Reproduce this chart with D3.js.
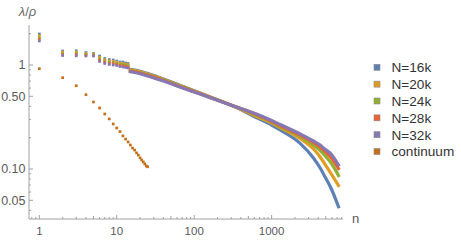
<!DOCTYPE html>
<html><head><meta charset="utf-8">
<script src="https://cdn.jsdelivr.net/npm/d3@7"></script>
<style>html,body{margin:0;padding:0;background:#fff;}svg{display:block;font-family:"Liberation Sans",Arial,sans-serif;}</style>
</head><body><svg id="c" width="461" height="241"></svg>
<script>
const seriesNames = ["N=16k","N=20k","N=24k","N=28k","N=32k"];
const colors = ["#5E81B5","#E19C24","#8FB032","#EB6235","#8778B3"];
const continuumColor = "#C56E1A";

const nDiscrete = [1,2,3,4,5,6,7,8,9,10,11,12,13,14];
const discrete16k = [1.987,1.363,1.369,1.319,1.290,1.220,1.155,1.129,1.117,1.093,1.069,1.069,1.045,1.034];
const discrete20k = [1.911,1.331,1.332,1.293,1.273,1.183,1.123,1.099,1.086,1.066,1.043,1.039,1.020,1.009];
const discrete24k = [1.837,1.297,1.296,1.269,1.255,1.148,1.093,1.069,1.057,1.039,1.017,1.011,0.994,0.983];
const discrete28k = [1.769,1.264,1.260,1.245,1.237,1.115,1.063,1.039,1.028,1.013,0.991,0.983,0.969,0.959];
const discrete32k = [1.702,1.234,1.226,1.220,1.220,1.081,1.034,1.011,1.000,0.989,0.967,0.957,0.946,0.936];

const nBand = [15,20,27,40,72,119,196,355,612,1000,1288,2334,3470,4235,4670,5995,7300];
const band16k = [0.9102,0.8708,0.8148,0.7351,0.6227,0.5392,0.4659,0.3902,0.3162,0.2649,0.2371,0.1766,0.1276,0.1022,0.0895,0.0628,0.0434];
const band20k = [0.8977,0.8588,0.8036,0.7262,0.6164,0.5356,0.4643,0.3911,0.3248,0.2769,0.2506,0.1965,0.1557,0.1304,0.1168,0.0876,0.0694];
const band24k = [0.8853,0.8470,0.7926,0.7174,0.6104,0.5321,0.4628,0.3920,0.3320,0.2831,0.2563,0.2054,0.1701,0.1506,0.1394,0.1117,0.0866];
const band28k = [0.8732,0.8354,0.7817,0.7087,0.6043,0.5286,0.4613,0.3929,0.3379,0.2881,0.2620,0.2114,0.1798,0.1628,0.1523,0.1262,0.1011];
const band32k = [0.8612,0.8239,0.7710,0.7001,0.5983,0.5250,0.4597,0.3937,0.3417,0.2927,0.2679,0.2170,0.1859,0.1701,0.1592,0.1364,0.1093];

const nContinuum = [1,2,3,4,5,6,7,8,9,10,11,12,13,14,15,16,17,18,19,20,21,22,23,24,25];
const continuum = [0.921,0.755,0.632,0.518,0.441,0.386,0.338,0.303,0.271,0.248,0.229,0.208,0.194,0.182,0.170,0.159,0.152,0.143,0.136,0.128,0.122,0.117,0.112,0.107,0.105];

const xTickLabels = [1,10,100,1000];
const yTickLabels = [0.05,0.1,0.5,1];
const yTickText = ["0.05","0.10","0.50","1"];
const legendLabels = seriesNames.concat(["continuum"]);

const discrete = [discrete16k,discrete20k,discrete24k,discrete28k,discrete32k];
const band = [band16k,band20k,band24k,band28k,band32k];

const svg = d3.select("#c");
const x = d3.scaleLog().domain([0.7355, 8350]).range([29, 343]);
const y = d3.scaleLog().domain([0.03305, 2.425]).range([219, 25]);
const axisCol = "#a0a0a0", textCol = "#5a5a5a";

// axes
const minorX = [];
[0.1,1,10,100,1000].forEach(d => {for (let k=1;k<10;k++){const v=+(d*k).toPrecision(6); if (v>=x.domain()[0] && v<=x.domain()[1]) minorX.push(v);} });
const gx = svg.append("g").attr("transform","translate(0,219)");
gx.append("line").attr("x1",29).attr("x2",343).attr("stroke",axisCol);
gx.selectAll(".mt").data(minorX).join("line")
  .attr("x1",d=>x(d)).attr("x2",d=>x(d)).attr("y1",0)
  .attr("y2",d=>{const m=d/Math.pow(10,Math.floor(Math.log10(d)+1e-9)); return Math.abs(m-1)<1e-6? -4 : (Math.abs(m-5)<1e-6? -3 : -2);})
  .attr("stroke",axisCol);
gx.selectAll(".lab").data(xTickLabels).join("text")
  .attr("x",d=>x(d)).attr("y",16).attr("text-anchor","middle")
  .attr("font-size",11.5).attr("fill",textCol).text(d=>String(d));
svg.append("text").attr("x",355.5).attr("y",223).attr("text-anchor","middle")
  .attr("font-size",13).attr("fill",textCol).text("n");

const minorY = [];
[0.01,0.1,1].forEach(d => {for (let k=1;k<10;k++){const v=+(d*k).toPrecision(6); if (v>=y.domain()[0] && v<=y.domain()[1]) minorY.push(v);} });
const gy = svg.append("g").attr("transform","translate(29,0)");
gy.append("line").attr("y1",25).attr("y2",219).attr("stroke",axisCol);
gy.selectAll(".mt").data(minorY).join("line")
  .attr("y1",d=>y(d)).attr("y2",d=>y(d)).attr("x1",0)
  .attr("x2",d=>{const m=d/Math.pow(10,Math.floor(Math.log10(d)+1e-9)); return Math.abs(m-1)<1e-6? 4 : (Math.abs(m-5)<1e-6? 4 : 2);})
  .attr("stroke",axisCol);
gy.selectAll(".lab").data(yTickLabels).join("text")
  .attr("x",-3.5).attr("y",d=>y(d)+4.3).attr("text-anchor","end")
  .attr("font-size",12.5).attr("fill",textCol).text((d,i)=>yTickText[i]);
svg.append("text").attr("x",27.5).attr("y",16).attr("text-anchor","middle")
  .attr("font-size",13).attr("fill","#6a6a6a")
  .html('<tspan font-style="italic">λ</tspan>/<tspan font-style="italic">ρ</tspan>');

// series
const s = 2.7;
const line = d3.line().x(d=>x(d[0])).y(d=>y(d[1])).curve(d3.curveMonotoneX);
for (let i=0;i<5;i++){
  const g = svg.append("g");
  const pts = nDiscrete.map((n,j)=>[n,discrete[i][j]]);
  g.selectAll("rect").data(pts).join("rect")
    .attr("x",d=>x(d[0])-s/2).attr("y",d=>y(d[1])-s/2).attr("width",s).attr("height",s)
    .attr("fill",colors[i]);
  const bpts = nBand.map((n,j)=>[n,band[i][j]]);
  g.append("path").attr("d",line(bpts)).attr("fill","none")
    .attr("stroke",colors[i]).attr("stroke-width",3.2).attr("stroke-linecap","square");
}
svg.append("g").selectAll("rect").data(nContinuum.map((n,j)=>[n,continuum[j]])).join("rect")
  .attr("x",d=>x(d[0])-s/2).attr("y",d=>y(d[1])-s/2).attr("width",s).attr("height",s)
  .attr("fill",continuumColor);

// legend
const lg = svg.append("g");
const lc = colors.concat([continuumColor]);
legendLabels.forEach((t,i)=>{
  const cy = 67.3 + i*16.85;
  lg.append("rect").attr("x",374).attr("y",cy-3).attr("width",6).attr("height",6)
    .attr("fill",lc[i]).attr("stroke","#8a8a8a").attr("stroke-width",0.6);
  lg.append("text").attr("x",391.5).attr("y",cy+4.8).attr("font-size",13.6)
    .attr("fill","#333").text(t);
});
</script></body></html>
